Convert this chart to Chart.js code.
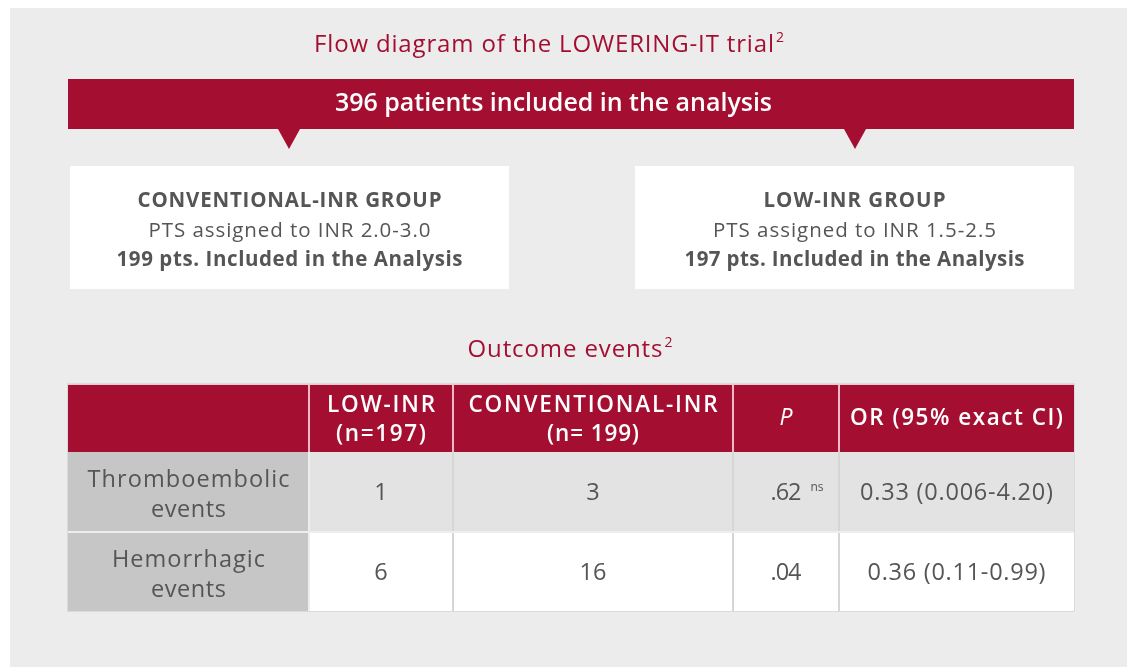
<!DOCTYPE html>
<html>
<head>
<meta charset="utf-8">
<script src="https://cdn.jsdelivr.net/npm/chart.js@4"></script>
<style>
  html, body { margin: 0; padding: 0; background: #ffffff; }
  #wrap { width: 1127px; height: 667px; }
</style>
</head>
<body>
<div id="wrap"><canvas id="c" width="1127" height="667"></canvas></div>
<script>
// ---------- data ----------
const flowTitle = "Flow diagram of the LOWERING-IT trial";
const flowTitleRef = "2";
const totalLabel = "396 patients included in the analysis";
const groupNames = ["CONVENTIONAL-INR GROUP", "LOW-INR GROUP"];
const groupAssign = ["PTS assigned to INR 2.0-3.0", "PTS assigned to INR 1.5-2.5"];
const groupIncluded = ["199 pts. Included in the Analysis", "197 pts. Included in the Analysis"];
const tableTitle = "Outcome events";
const tableTitleRef = "2";
const headerLine1 = ["", "LOW-INR", "CONVENTIONAL-INR", "P", "OR (95% exact CI)"];
const headerLine2 = ["", "(n=197)", "(n= 199)", "", ""];
const outcomeLine1 = ["Thromboembolic", "Hemorrhagic"];
const outcomeLine2 = ["events", "events"];
const lowInrEvents = [1, 6];
const convInrEvents = [3, 16];
const pValues = [".62", ".04"];
const pNotes = ["ns", ""];
const oddsRatios = ["0.33 (0.006-4.20)", "0.36 (0.11-0.99)"];

// ---------- style / layout ----------
const FONT = "'Open Sans', 'Noto Sans', sans-serif";
const RED = "#A40E31";
const GREY_TXT = "#555555";
const PANEL = "#ECECEC";

function txt(ctx, s, x, y, o) {
  ctx.save();
  ctx.font = (o.italic ? 'italic ' : '') + (o.weight || 400) + ' ' + o.size + 'px ' + FONT;
  ctx.fillStyle = o.color;
  ctx.textBaseline = 'alphabetic';
  ctx.textAlign = 'left';
  ctx.letterSpacing = '0px';
  let ls = 0;
  if (o.width && s.length > 1) {
    const w0 = ctx.measureText(s).width;
    ls = (o.width - w0) / (s.length - 1);
    if (ls < -1.5) ls = -1.5;
  }
  ctx.letterSpacing = ls + 'px';
  const w = ctx.measureText(s).width - ls;
  let sx = x;
  if (o.align === 'center') sx = x - w / 2;
  else if (o.align === 'right') sx = x - w;
  ctx.fillText(s, sx, y);
  ctx.restore();
  return sx + w;
}

const layoutPlugin = {
  id: 'layout',
  afterDraw(chart) {
    const ctx = chart.ctx;
    ctx.save();
    ctx.fillStyle = '#ffffff';
    ctx.fillRect(0, 0, 1127, 667);
    ctx.fillStyle = PANEL;
    ctx.fillRect(10, 8, 1117, 659);

    // title
    let e = txt(ctx, flowTitle, 544, 52, {size: 24, weight: 500, color: RED, align: 'center', width: 460});
    txt(ctx, flowTitleRef, e + 2, 42, {size: 14, weight: 500, color: RED});

    // banner
    ctx.fillStyle = RED;
    ctx.fillRect(68, 79, 1006, 50);
    const arrows = [289, 855];
    arrows.forEach(ax => {
      ctx.beginPath();
      ctx.moveTo(ax - 11, 129);
      ctx.lineTo(ax + 11, 129);
      ctx.lineTo(ax, 149);
      ctx.closePath();
      ctx.fill();
    });
    txt(ctx, totalLabel, 553.5, 111, {size: 25, weight: 600, color: '#ffffff', align: 'center', width: 437});

    // group boxes
    const boxes = [[70, 439], [635, 439]];
    const w1 = [304, 182], w2 = [282, 283], w3 = [346, 340];
    boxes.forEach((b, i) => {
      ctx.fillStyle = '#ffffff';
      ctx.fillRect(b[0], 166, b[1], 123);
      const cx = b[0] + b[1] / 2;
      txt(ctx, groupNames[i], cx, 207, {size: 20.5, weight: 700, color: GREY_TXT, align: 'center', width: w1[i]});
      txt(ctx, groupAssign[i], cx, 237, {size: 20.5, weight: 400, color: GREY_TXT, align: 'center', width: w2[i]});
      txt(ctx, groupIncluded[i], cx, 266, {size: 20.5, weight: 700, color: GREY_TXT, align: 'center', width: w3[i]});
    });

    // table title
    e = txt(ctx, tableTitle, 565, 357, {size: 24, weight: 500, color: RED, align: 'center', width: 195});
    txt(ctx, tableTitleRef, e + 2, 347, {size: 14, weight: 500, color: RED});

    // table
    const cols = [68, 309, 453, 733, 839, 1074];
    const rows = [384, 452, 532, 611];
    ctx.fillStyle = '#DADADA';
    ctx.fillRect(cols[0] - 1, rows[0] - 1, cols[5] - cols[0] + 2, rows[3] - rows[0] + 2);
    ctx.fillStyle = RED;
    ctx.fillRect(cols[0], rows[0], cols[5] - cols[0], rows[1] - rows[0]);
    for (let r = 0; r < 2; r++) {
      ctx.fillStyle = '#C6C6C6';
      ctx.fillRect(cols[0], rows[r + 1], cols[1] - cols[0], rows[r + 2] - rows[r + 1]);
      ctx.fillStyle = r === 0 ? '#E3E3E3' : '#ffffff';
      ctx.fillRect(cols[1], rows[r + 1], cols[5] - cols[1], rows[r + 2] - rows[r + 1]);
    }
    for (let c = 1; c < 5; c++) {
      ctx.fillStyle = '#EDBAC6';
      ctx.fillRect(cols[c] - 1, rows[0], 2, rows[1] - rows[0]);
      ctx.fillStyle = c === 1 ? '#EEEEEE' : '#D6D6D6';
      ctx.fillRect(cols[c] - 1, rows[1], 2, rows[3] - rows[1]);
    }
    ctx.fillStyle = '#EEEEEE';
    ctx.fillRect(cols[0], rows[2] - 1, cols[5] - cols[0], 2);
    ctx.fillStyle = '#F0C6D0';
    ctx.fillRect(cols[0], rows[0], cols[5] - cols[0], 1);

    const cc = i => (cols[i] + cols[i + 1]) / 2;
    const H = {size: 22.5, weight: 600, color: '#fff', align: 'center'};
    txt(ctx, headerLine1[1], cc(1), 412, Object.assign({}, H, {width: 108}));
    txt(ctx, headerLine2[1], cc(1), 441, Object.assign({}, H, {width: 90}));
    txt(ctx, headerLine1[2], cc(2), 412, Object.assign({}, H, {width: 249}));
    txt(ctx, headerLine2[2], cc(2), 441, Object.assign({}, H, {width: 92}));
    txt(ctx, headerLine1[3], cc(3), 425, {size: 23, weight: 400, italic: true, color: '#fff', align: 'center'});
    txt(ctx, headerLine1[4], cc(4), 425, Object.assign({}, H, {width: 213}));

    const B = {size: 23.5, weight: 400, color: GREY_TXT, align: 'center'};
    const l1w = [202, 153], l2w = [75, 75], orw = [193, 178];
    for (let r = 0; r < 2; r++) {
      const mid = (rows[r + 1] + rows[r + 2]) / 2;
      const base = mid + 8;
      txt(ctx, outcomeLine1[r], cc(0), mid - 5, Object.assign({}, B, {width: l1w[r]}));
      txt(ctx, outcomeLine2[r], cc(0), mid + 25, Object.assign({}, B, {width: l2w[r]}));
      txt(ctx, String(lowInrEvents[r]), cc(1), base, B);
      txt(ctx, String(convInrEvents[r]), cc(2), base, B);
      const pe = txt(ctx, pValues[r], cc(3), base, Object.assign({}, B, {width: 31}));
      if (pNotes[r]) txt(ctx, pNotes[r], pe + 9, base - 9, {size: 12, weight: 400, color: GREY_TXT});
      txt(ctx, oddsRatios[r], cc(4), base, Object.assign({}, B, {width: orw[r]}));
    }
    ctx.restore();
  }
};

new Chart(document.getElementById('c'), {
  type: 'bar',
  data: {
    labels: outcomeLine1,
    datasets: [
      { label: headerLine1[1], data: lowInrEvents, hidden: true },
      { label: headerLine1[2], data: convInrEvents, hidden: true }
    ]
  },
  options: {
    responsive: false,
    devicePixelRatio: 1,
    animation: false,
    events: [],
    layout: { padding: 0 },
    scales: { x: { display: false }, y: { display: false } },
    plugins: { legend: { display: false }, tooltip: { enabled: false }, title: { display: false } }
  },
  plugins: [layoutPlugin]
});
</script>
</body>
</html>
